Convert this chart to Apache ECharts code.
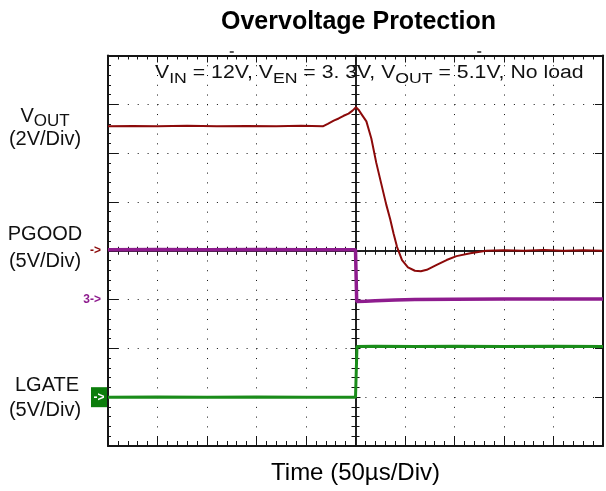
<!DOCTYPE html>
<html>
<head>
<meta charset="utf-8">
<script src="https://cdn.jsdelivr.net/npm/echarts@6/dist/echarts.min.js"></script>
<style>
  html, body { margin: 0; padding: 0; background: #ffffff; }
  #scope { width: 606px; height: 491px; }
</style>
</head>
<body>
<div id="scope"></div>
<script>
// Horizontal: microseconds, 50 us per division, trigger at 0
const timeRange = [-250, 250];
const timeStep = 50;

// Vertical channel scales (volts): [min, max, volts per division]
const voutScale = [-8, 8, 2];
const pgoodScale = [-15, 25, 5];
const lgateScale = [-5, 35, 5];

// CH1: output voltage
const voutTime  = [-250, -225, -200, -170, -140, -110, -80, -55, -33, -28, -22, -17, -12, -7, -3, 0.5, 3, 6, 11, 16, 21, 26, 31, 35, 38.5, 42, 47, 53, 60, 66, 72, 82, 92, 102, 116, 132, 150, 170, 190, 210, 230, 250];
const voutVolts = [5.1, 5.11, 5.1, 5.12, 5.1, 5.11, 5.1, 5.12, 5.1, 5.2, 5.33, 5.42, 5.53, 5.62, 5.74, 5.88, 5.78, 5.6, 5.3, 4.6, 3.6, 2.75, 1.9, 1.3, 0.7, 0.15, -0.38, -0.68, -0.82, -0.84, -0.78, -0.58, -0.38, -0.22, -0.1, 0, 0.02, 0, 0.03, 0, 0.02, 0];

// CH3: power-good output
const pgoodTime  = [-250, -200, -150, -100, -50, 0, 1, 1.2, 10, 20, 40, 60, 100, 150, 200, 250];
const pgoodVolts = [5.1, 5.12, 5.1, 5.12, 5.1, 5.1, 5.1, -0.2, -0.18, -0.12, -0.05, 0, 0.03, 0.05, 0.05, 0.05];

// CH4: low-side gate drive
const lgateTime  = [-250, -200, -150, -100, -50, 0, 1.2, 1.5, 20, 60, 100, 150, 200, 250];
const lgateVolts = [0, 0.02, 0, 0.02, 0, 0, 0, 5.2, 5.22, 5.2, 5.22, 5.2, 5.22, 5.2];

const pairs = (xs, ys) => xs.map((x, i) => [x, ys[i]]);

const FONT = 'Liberation Sans, Arial, Helvetica, sans-serif';
const INK = '#151515';
const RED = '#8c0a0a';
const PURPLE = '#8e1c8e';
const GREEN = '#1a8c1a';

const grid = { left: 108, top: 55.5, width: 495, height: 390.5, containLabel: false, outerBoundsMode: 'none' };
const halfW = grid.width / 2;
const halfH = grid.height / 2;

function tickStyle(len) {
  return { show: true, inside: true, length: len, lineStyle: { color: INK, width: 1 } };
}
function minorStyle(len) {
  return { show: true, splitNumber: 5, length: len, lineStyle: { color: INK, width: 1 } };
}

function timeAxis(extra) {
  return Object.assign({
    type: 'value',
    min: timeRange[0],
    max: timeRange[1],
    interval: timeStep,
    axisLabel: { show: false },
    splitLine: { show: false },
    axisLine: { show: true, onZero: false, lineStyle: { color: INK, width: 2 } },
    axisTick: tickStyle(10),
    minorTick: minorStyle(5)
  }, extra);
}

function voltAxis(scale, extra) {
  return Object.assign({
    type: 'value',
    min: scale[0],
    max: scale[1],
    interval: scale[2],
    axisLabel: { show: false },
    splitLine: { show: false },
    axisLine: { show: true, onZero: false, lineStyle: { color: INK, width: 2 } },
    axisTick: tickStyle(10),
    minorTick: minorStyle(3)
  }, extra);
}

// centre graticule line: two coincident axes, ticks pointing outwards on each side
const centreLine = { show: true, onZero: false, lineStyle: { color: INK, width: 1.5 } };
const centreTick = { show: true, inside: false, length: 5, lineStyle: { color: INK, width: 1 } };

const option = {
  animation: false,
  backgroundColor: '#ffffff',
  title: {
    text: 'Overvoltage Protection',
    left: 216,
    top: 5,
    textStyle: { fontFamily: FONT, fontSize: 25, fontWeight: 'bold', color: '#000' }
  },
  grid: grid,
  xAxis: [
    // bottom frame with dotted division grid
    timeAxis({
      position: 'bottom',
      name: 'Time (50\u00b5s/Div)',
      nameLocation: 'middle',
      nameGap: 15,
      nameTextStyle: { fontFamily: FONT, fontSize: 24, color: '#000' },
      splitLine: { show: true, lineStyle: { color: '#111', width: 1, type: [1, 8.76] } }
    }),
    // top frame
    timeAxis({ position: 'top', axisTick: tickStyle(7), minorTick: minorStyle(4) }),
    timeAxis({ position: 'bottom', offset: -halfH, axisLine: centreLine, axisTick: centreTick, minorTick: minorStyle(4) }),
    timeAxis({ position: 'top', offset: -halfH, axisLine: centreLine, axisTick: centreTick, minorTick: minorStyle(4) })
  ],
  yAxis: [
    // CH1 scale, left frame with dotted division grid
    voltAxis(voutScale, {
      position: 'left',
      splitLine: { show: true, lineStyle: { color: '#111', width: 1, type: [1, 8.9] } }
    }),
    // CH3 and CH4 scales
    voltAxis(pgoodScale, { show: false }),
    voltAxis(lgateScale, { show: false }),
    // right frame
    voltAxis(voutScale, { position: 'right', axisTick: tickStyle(8), minorTick: { show: false } }),
    voltAxis(voutScale, { position: 'left', offset: -halfW, axisLine: centreLine, axisTick: centreTick, minorTick: minorStyle(4) }),
    voltAxis(voutScale, { position: 'right', offset: -halfW, axisLine: centreLine, axisTick: centreTick, minorTick: minorStyle(4) })
  ],
  series: [
    {
      name: 'PGOOD', type: 'line', xAxisIndex: 0, yAxisIndex: 1,
      data: pairs(pgoodTime, pgoodVolts), showSymbol: false, symbol: 'none',
      lineStyle: { color: PURPLE, width: 3.5 }, z: 3
    },
    {
      name: 'LGATE', type: 'line', xAxisIndex: 0, yAxisIndex: 2,
      data: pairs(lgateTime, lgateVolts), showSymbol: false, symbol: 'none',
      lineStyle: { color: GREEN, width: 3 }, z: 3
    },
    {
      name: 'VOUT', type: 'line', xAxisIndex: 0, yAxisIndex: 0,
      data: pairs(voutTime, voutVolts), showSymbol: false, symbol: 'none',
      lineStyle: { color: RED, width: 2 }, z: 4
    }
  ]
};

const chart = echarts.init(document.getElementById('scope'), null, { renderer: 'canvas' });
chart.setOption(option);

// channel ground markers sit at each channel's 0 V level
const zeroVout = chart.convertToPixel({ yAxisIndex: 0 }, 0);
const zeroPgood = chart.convertToPixel({ yAxisIndex: 1 }, 0);
const zeroLgate = chart.convertToPixel({ yAxisIndex: 2 }, 0);
// trigger position markers above the frame
const trigL = chart.convertToPixel({ xAxisIndex: 0 }, -125);
const trigR = chart.convertToPixel({ xAxisIndex: 0 }, 125);

function label(text, x, y, size) {
  return { type: 'text', x: x, y: y, silent: true,
           style: { text: text, fontFamily: FONT, fontSize: size, fill: '#111', align: 'center', verticalAlign: 'middle' } };
}

chart.setOption({
  graphic: [
    // measurement conditions
    {
      type: 'text', x: 155, y: 64, scaleX: 1.18, silent: true,
      style: {
        text: '{m|V}{s|IN}{m| = 12V, V}{s|EN}{m| = 3. 3V, V}{s|OUT}{m| = 5.1V, No load}',
        fontFamily: FONT, fill: '#111',
        rich: {
          m: { fontFamily: FONT, fontSize: 18, lineHeight: 22, verticalAlign: 'top', fill: '#111' },
          s: { fontFamily: FONT, fontSize: 15, lineHeight: 14, verticalAlign: 'bottom', fill: '#111' }
        }
      }
    },
    // channel names and scales
    {
      type: 'text', x: 45, y: 118, silent: true,
      style: {
        text: '{m|V}{s|OUT}', fontFamily: FONT, fill: '#111', align: 'center', verticalAlign: 'middle',
        rich: {
          m: { fontFamily: FONT, fontSize: 20, lineHeight: 24, verticalAlign: 'top', fill: '#111' },
          s: { fontFamily: FONT, fontSize: 17, lineHeight: 17, verticalAlign: 'bottom', fill: '#111' }
        }
      }
    },
    label('(2V/Div)', 45, 139, 20),
    label('PGOOD', 45, 234, 20),
    label('(5V/Div)', 45, 261, 20),
    label('LGATE', 47, 385, 20),
    label('(5V/Div)', 45, 410, 20),
    // ground markers
    { type: 'text', x: 101, y: zeroVout, silent: true,
      style: { text: '->', fontFamily: FONT, fontSize: 12, fontWeight: 'bold', fill: RED, align: 'right', verticalAlign: 'middle' } },
    { type: 'text', x: 101, y: zeroPgood, silent: true,
      style: { text: '3->', fontFamily: FONT, fontSize: 12, fontWeight: 'bold', fill: PURPLE, align: 'right', verticalAlign: 'middle' } },
    { type: 'rect', silent: true, shape: { x: 91, y: zeroLgate - 10, width: 16, height: 20 },
      style: { fill: '#0b7d0b' } },
    { type: 'text', x: 99, y: zeroLgate, silent: true,
      style: { text: '->', fontFamily: FONT, fontSize: 12, fontWeight: 'bold', fill: '#ffffff', align: 'center', verticalAlign: 'middle' } },
    // trigger markers
    { type: 'line', silent: true, shape: { x1: trigL - 2, y1: 52, x2: trigL + 2, y2: 52 }, style: { stroke: '#222', lineWidth: 1.5 } },
    { type: 'line', silent: true, shape: { x1: trigR - 2, y1: 52, x2: trigR + 2, y2: 52 }, style: { stroke: '#222', lineWidth: 1.5 } }
  ]
});
</script>
</body>
</html>
